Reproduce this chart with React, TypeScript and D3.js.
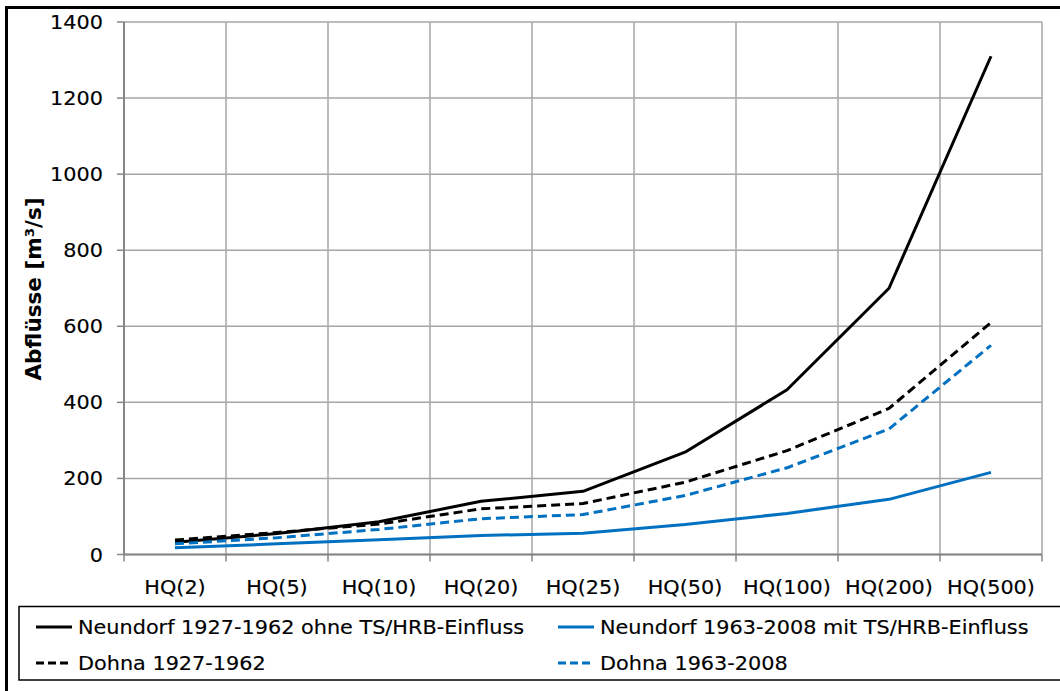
import React from "react";
import * as d3 from "d3";

const categories = ["HQ(2)", "HQ(5)", "HQ(10)", "HQ(20)", "HQ(25)", "HQ(50)", "HQ(100)", "HQ(200)", "HQ(500)"];
const neundorfAlt = [32, 55, 86, 140, 166, 269, 433, 700, 1310];
const neundorfNeu = [18, 28, 39, 50, 56, 79, 108, 145, 216];
const dohnaAlt = [38, 58, 80, 120, 134, 190, 273, 384, 610];
const dohnaNeu = [28, 44, 66, 94, 105, 155, 228, 330, 550];
const yTicks = [0, 200, 400, 600, 800, 1000, 1200, 1400];

const seriesList = [
  { name: "Neundorf 1927-1962 ohne TS/HRB-Einfluss", values: neundorfAlt, color: "#000000", dash: "" },
  { name: "Neundorf 1963-2008 mit TS/HRB-Einfluss", values: neundorfNeu, color: "#0070c0", dash: "" },
  { name: "Dohna 1927-1962", values: dohnaAlt, color: "#000000", dash: "9,5" },
  { name: "Dohna 1963-2008", values: dohnaNeu, color: "#0070c0", dash: "9,5" },
];

const W = 1060;
const H = 691;
const plot = { left: 124, right: 1042, top: 22, bottom: 554.5 };
const font = "'DejaVu Sans', Verdana, sans-serif";
const sx = 1.095; // text in the reference is slightly wider

// text helper: slightly stretched horizontally
const T: React.FC<{ x: number; y: number; anchor?: string; size?: number; children: React.ReactNode }> = ({
  x,
  y,
  anchor = "start",
  size = 19,
  children,
}) => (
  <text
    transform={`translate(${x},${y}) scale(${sx},1)`}
    textAnchor={anchor}
    fontFamily={font}
    fontSize={size}
    fill="#000"
    stroke="#000"
    strokeWidth={0.15}
  >
    {children}
  </text>
);

export default function App() {
  const x = d3.scaleBand<string>().domain(categories).range([plot.left, plot.right]).padding(0);
  const y = d3.scaleLinear().domain([0, 1400]).range([plot.bottom, plot.top]);
  const cx = (c: string) => (x(c) as number) + x.bandwidth() / 2;

  const line = d3
    .line<number>()
    .x((_, i) => cx(categories[i]))
    .y((d) => y(d));

  const bounds = categories.map((c) => x(c) as number).concat([plot.right]);

  // legend layout
  const legendCols = [36, 558];
  const legendRows = [627, 663];

  return (
    <svg width={W} height={H} style={{ position: "absolute", left: 0, top: 0, background: "#fff" }}>
      <rect x={0} y={0} width={W} height={H} fill="#fff" />
      {/* outer frame */}
      <rect x={6.5} y={7.5} width={W + 20} height={H + 20} fill="none" stroke="#000" strokeWidth={3} />

      {/* horizontal gridlines */}
      {yTicks.map((t) => (
        <line key={"h" + t} x1={plot.left} x2={plot.right} y1={y(t)} y2={y(t)} stroke="#a6a6a6" strokeWidth={1.5} />
      ))}
      {/* vertical gridlines */}
      {bounds.map((b, i) => (
        <line key={"v" + i} x1={b} x2={b} y1={plot.top} y2={plot.bottom} stroke="#a6a6a6" strokeWidth={1.5} />
      ))}

      {/* axes */}
      <line x1={plot.left} x2={plot.left} y1={plot.top} y2={plot.bottom} stroke="#868686" strokeWidth={2} />
      <line x1={plot.left} x2={plot.right} y1={plot.bottom} y2={plot.bottom} stroke="#868686" strokeWidth={2} />
      {yTicks.map((t) => (
        <line key={"yt" + t} x1={plot.left - 7} x2={plot.left} y1={y(t)} y2={y(t)} stroke="#868686" strokeWidth={1.5} />
      ))}
      {bounds.map((b, i) => (
        <line key={"xt" + i} x1={b} x2={b} y1={plot.bottom} y2={plot.bottom + 7} stroke="#868686" strokeWidth={1.5} />
      ))}

      {/* tick labels */}
      {yTicks.map((t) => (
        <T key={"yl" + t} x={103} y={y(t) + 7} anchor="end">
          {t}
        </T>
      ))}
      {categories.map((c) => (
        <T key={"xl" + c} x={cx(c)} y={594} anchor="middle">
          {c}
        </T>
      ))}

      {/* y axis title */}
      <text
        transform={`translate(41,289) rotate(-90)`}
        textAnchor="middle"
        fontFamily={font}
        fontWeight="bold"
        fontSize={21.5}
        fill="#000"
      >
        Abflüsse [m³/s]
      </text>

      {/* series */}
      {seriesList.map((s) => (
        <path
          key={s.name}
          d={line(s.values) as string}
          fill="none"
          stroke={s.color}
          strokeWidth={3}
          strokeDasharray={s.dash || undefined}
          strokeLinejoin="round"
        />
      ))}

      {/* legend */}
      <rect x={19} y={606.5} width={W} height={73.5} fill="#fff" stroke="#000" strokeWidth={1.5} />
      {seriesList.map((s, i) => {
        const lx = legendCols[i % 2];
        const ly = legendRows[Math.floor(i / 2)];
        return (
          <g key={"lg" + i}>
            <line
              x1={lx}
              x2={lx + 36}
              y1={ly}
              y2={ly}
              stroke={s.color}
              strokeWidth={3}
              strokeDasharray={s.dash ? "8,4" : undefined}
            />
            <T x={lx + 42} y={ly + 7}>
              {s.name}
            </T>
          </g>
        );
      })}
    </svg>
  );
}
